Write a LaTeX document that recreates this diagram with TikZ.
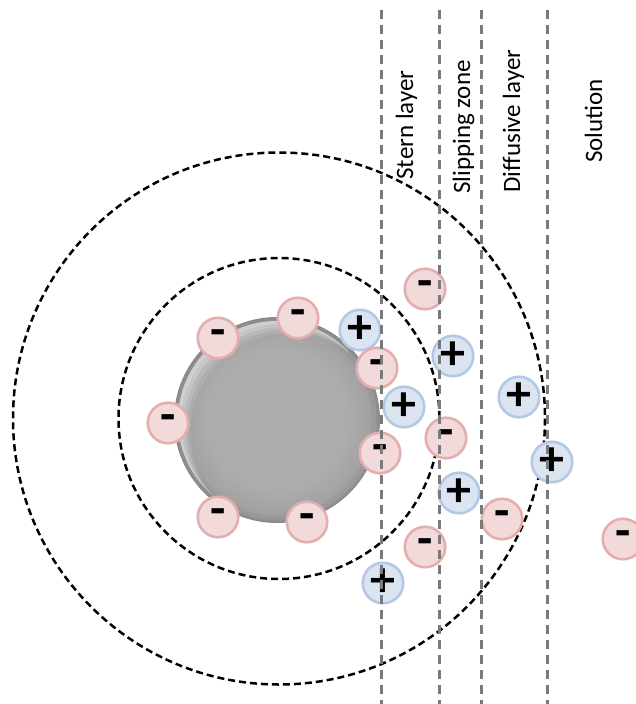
\documentclass[tikz,border=0pt]{standalone}
\usepackage{fontspec}
\setmainfont{Carlito}
\definecolor{AnionFill}{RGB}{242,218,218}
\definecolor{AnionBorder}{RGB}{228,174,174}
\definecolor{CationFill}{RGB}{219,229,242}
\definecolor{CationBorder}{RGB}{178,200,228}
\definecolor{LayerGray}{RGB}{122,122,122}
\definecolor{SphereCore}{RGB}{172,172,172}
\definecolor{SphereMid}{RGB}{162,162,162}
\definecolor{SphereRim}{RGB}{136,136,136}
\pgfdeclareradialshading{particle}{\pgfpoint{0bp}{0bp}}{%
  color(0bp)=(SphereCore); color(17bp)=(SphereCore);
  color(22.5bp)=(SphereMid); color(25bp)=(SphereRim); color(50bp)=(SphereRim)}
\tikzset{
  ion/.style={circle, line width=2.6pt, minimum size=40.5pt, inner sep=0pt,
              font=\fontsize{50}{50}\selectfont\bfseries},
  anion/.style={ion, draw=AnionBorder, fill=AnionFill},
  cation/.style={ion, draw=CationBorder, fill=CationFill},
  shell/.style={black, line width=2.5pt, dash pattern=on 7pt off 4pt},
  boundary/.style={LayerGray, line width=3pt, dash pattern=on 9pt off 6pt},
  zonelabel/.style={rotate=90, anchor=base, inner sep=0pt,
                    font=\fontsize{25}{25}\selectfont},
}

\begin{document}
\begin{tikzpicture}[x=1pt, y=-1pt]
  \useasboundingbox (0,0) rectangle (636,704);

  \coordinate (core)   at (279,418.5);
  \coordinate (centre) at (277,420);

  % shear plane and outer limit of the diffuse layer
  \draw[shell] (core) circle[radius=160.5];
  \draw[shell] (core) circle[radius=266];

  % charged particle with a soft rim light at the upper left
  \shade[shading=particle] (centre) circle[radius=103];
  \foreach \d/\o in {3/0.25, 6/0.22, 9/0.16, 12/0.1} {
    \begin{scope}
      \clip (centre) circle[radius=99];
      \fill[white, opacity=\o, even odd rule]
        (centre) circle[radius=99] ([shift={(\d,\d)}]centre) circle[radius=99];
    \end{scope}
  }

  \node[cation] (c1) at (360,330) {+};

  % negative surface charges and co-ions
  \node[anion] (a1)  at (218,338) {-};
  \node[anion] (a2)  at (298,318) {-};
  \node[anion] (a3)  at (168,423) {-};
  \node[anion] (a4)  at (218,517) {-};
  \node[anion] (a5)  at (307,522) {-};
  \node[anion] (a6)  at (377,368) {-};
  \node[anion] (a7)  at (380,453) {-};
  \node[anion] (a8)  at (425,289) {-};
  \node[anion] (a9)  at (446,438) {-};
  \node[anion] (a10) at (502,519) {-};
  \node[anion] (a11) at (425,547) {-};
  \node[anion] (a12) at (623,539) {-};

  % counter-ions
  \node[cation] (c2) at (404,407) {+};
  \node[cation] (c3) at (453,356) {+};
  \node[cation] (c4) at (459,493) {+};
  \node[cation] (c5) at (519,397) {+};
  \node[cation] (c6) at (552,462) {+};
  \node[cation] (c7) at (383,583) {+};

  % layer boundaries
  \coordinate (sternT)   at (381,10);  \coordinate (sternB)   at (381,704);
  \coordinate (slipT)    at (439,10);  \coordinate (slipB)    at (439,704);
  \coordinate (diffT)    at (481,10);  \coordinate (diffB)    at (481,704);
  \coordinate (solT)     at (547,10);  \coordinate (solB)     at (547,704);
  \draw[boundary] (sternT) -- (sternB);
  \draw[boundary] (slipT)  -- (slipB);
  \draw[boundary] (diffT)  -- (diffB);
  \draw[boundary] (solT)   -- (solB);

  \node[zonelabel] (stern) at (413,125) {Stern layer};
  \node[zonelabel] (slip)  at (470,127) {Slipping zone};
  \node[zonelabel] (diff)  at (520,121) {Diffusive layer};
  \node[zonelabel] (sol)   at (602,121) {Solution};
\end{tikzpicture}
\end{document}
